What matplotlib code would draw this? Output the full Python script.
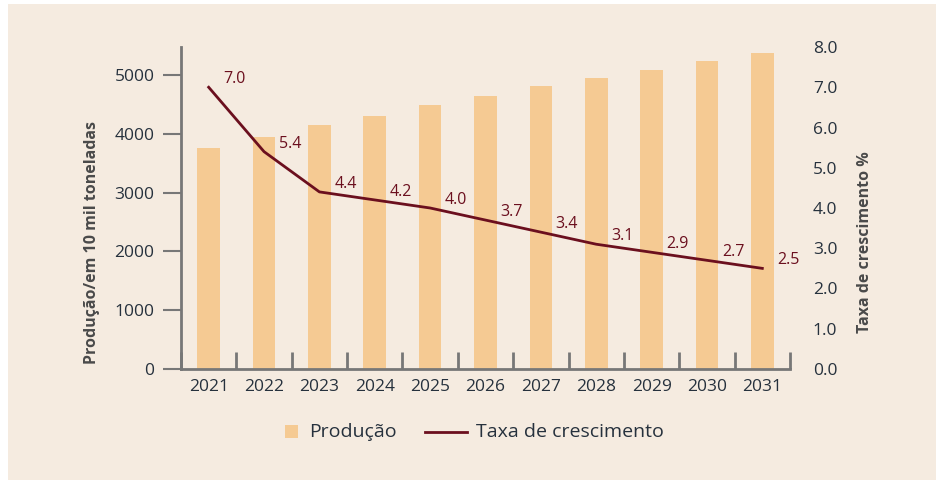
import matplotlib
matplotlib.use("Agg")
import matplotlib.pyplot as plt
from matplotlib.patches import Rectangle
from matplotlib.lines import Line2D

# data
anos = ["2021", "2022", "2023", "2024", "2025", "2026", "2027", "2028", "2029", "2030", "2031"]
producao = [3750, 3950, 4150, 4310, 4490, 4650, 4820, 4950, 5090, 5240, 5380]
taxa = [7.0, 5.4, 4.4, 4.2, 4.0, 3.7, 3.4, 3.1, 2.9, 2.7, 2.5]

bg = "#F5EBE0"
cor_barra = "#F5CA93"
cor_linha = "#6B0F1E"
cor_texto = "#26313D"
cor_eixo = "#777777"

plt.rcParams["font.family"] = ["Open Sans", "DejaVu Sans"]

W, H = 936, 480
fig = plt.figure(figsize=(9.36, 4.8), dpi=100, facecolor="white")
fig.patches.append(Rectangle((8 / W, 0), 1, 1 - 4 / H, transform=fig.transFigure,
                             facecolor=bg, edgecolor="none", zorder=-10))

ax = fig.add_axes([181 / W, 1 - 369 / H, (790 - 181) / W, (369 - 47) / H])
ax.set_facecolor("none")
x = list(range(len(anos)))
ax.bar(x, producao, width=0.41, color=cor_barra, zorder=2)
ax.set_xlim(-0.5, len(anos) - 0.5)
ax.set_ylim(0, 5476)
ax.set_yticks([0, 1000, 2000, 3000, 4000, 5000])
ax.set_xticks(x)
ax.set_xticklabels(anos)
ax.set_xticks([i - 0.5 for i in range(len(anos) + 1)], minor=True)
ax.tick_params(axis="x", which="major", length=0, pad=7, labelsize=12.5, labelcolor=cor_texto)
ax.tick_params(axis="x", which="minor", direction="in", length=12, width=2, color=cor_eixo)
ax.tick_params(axis="y", direction="out", length=13, width=1.5, color=cor_eixo,
               labelsize=12.5, labelcolor=cor_texto, pad=6)
for s in ["top", "right"]:
    ax.spines[s].set_visible(False)
for s in ["left", "bottom"]:
    ax.spines[s].set_color(cor_eixo)
    ax.spines[s].set_linewidth(2)
ax.set_ylabel("Produção/em 10 mil toneladas", fontsize=11.5, fontweight="bold",
              color="#4A4A4A")
ax.yaxis.set_label_coords(-0.133, 0.394)

ax2 = ax.twinx()
ax2.plot(x, taxa, color=cor_linha, linewidth=2, zorder=3)
ax2.set_ylim(0, 8)
ax2.set_yticks([0, 1, 2, 3, 4, 5, 6, 7, 8])
ax2.set_yticklabels([f"{v:.1f}" for v in range(9)])
ax2.tick_params(axis="y", length=0, pad=16.5, labelsize=12.5, labelcolor=cor_texto)
for s in ["top", "right", "left", "bottom"]:
    ax2.spines[s].set_visible(False)
ax2.set_ylabel("Taxa de crescimento %", fontsize=11.5, fontweight="bold",
               color="#4A4A4A")
ax2.yaxis.set_label_coords(1.11, 0.394)
for xi, v in zip(x, taxa):
    ax2.annotate(f"{v:.1f}", (xi, v), xytext=(26, 8), textcoords="offset pixels",
                 ha="center", va="center", fontsize=11.5, color=cor_linha)

# legenda
fig.patches.append(Rectangle((285 / W, 1 - 438 / H), 13 / W, 13 / H, transform=fig.transFigure,
                             facecolor=cor_barra, edgecolor="none"))
fig.text(309 / W, 1 - 432 / H, "Produção", fontsize=14, color=cor_texto, va="center")
fig.lines.append(Line2D([425 / W, 467 / W], [1 - 432 / H, 1 - 432 / H],
                        transform=fig.transFigure, color=cor_linha, linewidth=2))
fig.text(476 / W, 1 - 432 / H, "Taxa de crescimento", fontsize=14, color=cor_texto, va="center")

fig.savefig("out.png", dpi=100, facecolor=fig.get_facecolor())
